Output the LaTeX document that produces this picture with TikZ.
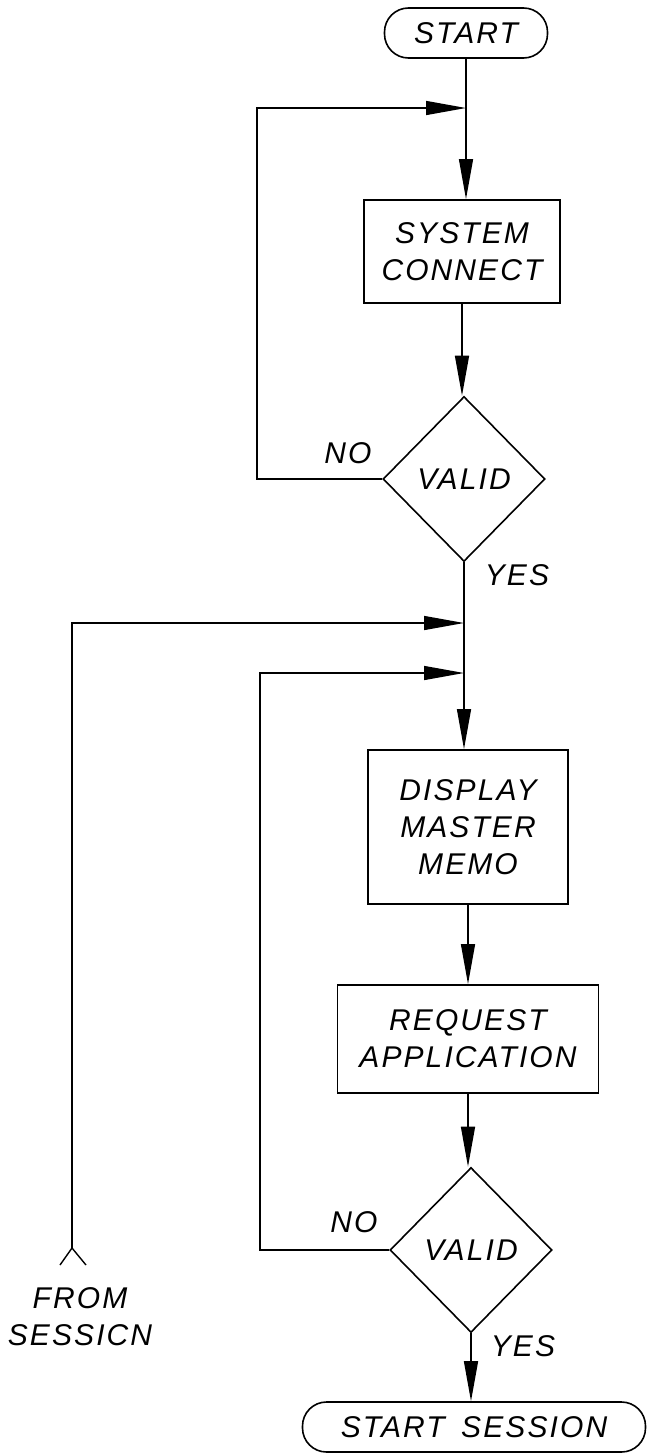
\documentclass[tikz,border=0pt]{standalone}
\usepackage{fontspec}
\setmainfont{Liberation Sans}
\newfontfamily\lfont{Liberation Sans}[LetterSpace=7]
\usetikzlibrary{arrows.meta,shapes.geometric}
\begin{document}
\begin{tikzpicture}[x=1pt,y=-1pt,line width=1.4pt,
  txt/.style={font=\lfont\itshape\fontsize{30}{37}\selectfont,align=center,inner sep=0pt},
  procbox/.style={draw,line width=1.8pt,txt,minimum width=#1},
  termbox/.style={draw,line width=1.6pt,txt,rounded corners=24pt,minimum width=#1,minimum height=50pt},
  decbox/.style={draw,diamond,line width=1.6pt,txt,minimum width=162pt,minimum height=165pt},
  arr/.style={-{Triangle[length=40pt,width=14pt]}}]
\useasboundingbox (0,0) rectangle (647,1456);

% nodes
\node[termbox=163pt] (start) at (466,33) {START};
\node[procbox=196pt,minimum height=103pt] (sys) at (462,251.5) {SYSTEM\\CONNECT};
\node[decbox] (v1) at (464,479) {VALID};
\node[procbox=200pt,minimum height=154pt] (disp) at (468,827) {DISPLAY\\MASTER\\MEMO};
\node[procbox=261pt,minimum height=108pt] (req) at (468,1039) {REQUEST\\APPLICATION};
\node[decbox] (v2) at (471,1250) {VALID};
\node[termbox=343pt] (ss) at (474,1427) {START\hspace{6pt} SESSION};

\node[txt] (no1) at (348,453) {NO};
\node[txt] (yes1) at (517,575) {YES};
\node[txt] (no2) at (354,1222) {NO};
\node[txt] (yes2) at (523,1346) {YES};
\node[txt] (fromtxt) at (80,1317) {FROM\\SESSICN};

% junction coordinates
\coordinate (j1) at (start.south |- 0,108);
\coordinate (c1) at (257,108);
\coordinate (j2) at (v1.south |- 0,623);
\coordinate (j3) at (v1.south |- 0,673);
\coordinate (c3) at (260,673);
\coordinate (fs) at (72,1248);

% connectors
\draw[arr] (start) -- (start.south |- sys.north);
\draw[arr] (sys.south) -- (sys.south |- v1.north);
\draw[arr] (v1.west) -| (c1) -- (j1);
\draw[arr] (v1.south) -- (v1.south |- disp.north);
\draw[arr] (fs) |- (j2);
\draw[arr] (v2.west) -| (c3) -- (j3);
\draw[arr] (disp.south) -- (disp.south |- req.north);
\draw[arr] (req.south) -- (req.south |- v2.north);
\draw[arr] (v2.south) -- (v2.south |- ss.north);
\draw (fs) -- ++(-12,17);
\draw (fs) -- ++(14,17);
\end{tikzpicture}
\end{document}
